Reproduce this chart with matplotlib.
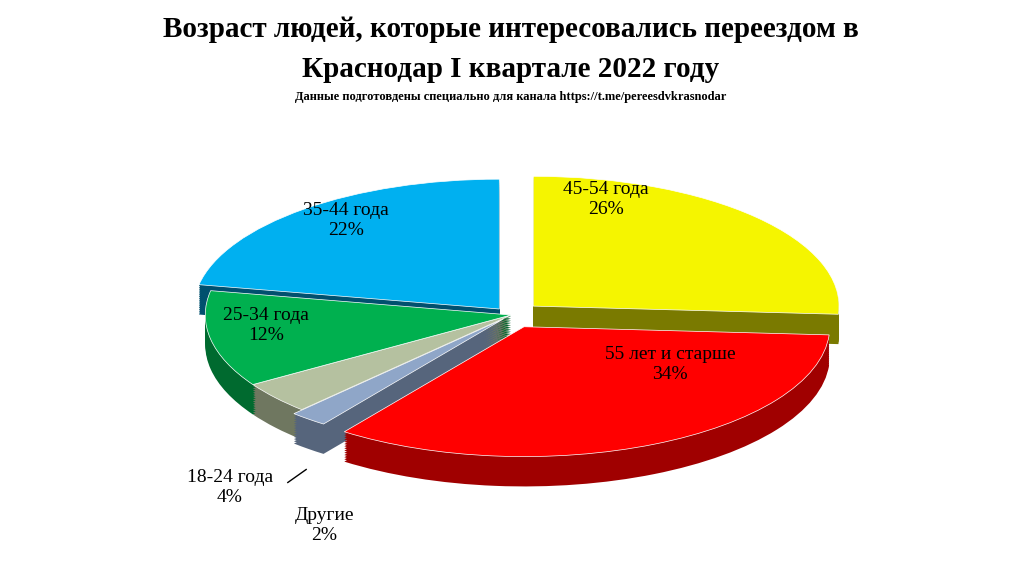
import matplotlib
matplotlib.use("Agg")
import matplotlib.pyplot as plt
import numpy as np

labels = ["45-54 года", "55 лет и старше", "Другие", "18-24 года", "25-34 года", "35-44 года"]
values = [26, 34, 2, 4, 12, 22]
colors = ["#f5f500", "#ff0000", "#8fa6c8", "#b5c1a0", "#00b04f", "#00b0f0"]
side_colors = ["#7a7a00", "#a00000", "#56657c", "#6f7760", "#006a2f", "#00506e"]
explode = [0.1, 0.1, 0.04, 0.0, 0.0, 0.06]

plt.rcParams['font.family'] = ['Liberation Serif', 'DejaVu Serif']
fig = plt.figure(figsize=(10.22, 5.68), dpi=100)
fig.text(0.5, 0.948, "Возраст людей, которые интересовались переездом в", ha='center', va='center',
         fontsize=21, fontweight='bold')
fig.text(0.5, 0.878, "Краснодар I квартале 2022 году", ha='center', va='center',
         fontsize=21, fontweight='bold')
fig.text(0.5, 0.83, "Данные подготовдены специально для канала https://t.me/pereesdvkrasnodar",
         ha='center', va='center', fontsize=9, fontweight='bold')

ax = fig.add_axes([0.15, 0.05, 0.7, 0.72])
ax.axis('off')

depth = 0.23
for k in np.linspace(depth, 0.01, 14):
    ax.pie(values, colors=side_colors, startangle=90, counterclock=False,
           explode=explode, center=(0, -k), radius=1.0,
           wedgeprops=dict(linewidth=0))
ax.pie(values, colors=colors, startangle=90, counterclock=False,
       explode=explode, center=(0, 0), radius=1.0,
       wedgeprops=dict(linewidth=0.5, edgecolor='white'))
ax.set_aspect('auto')
ax.set_xlim(-1.17, 1.17)
ax.set_ylim(-1.73, 1.42)

pos = [(0.31, 0.89), (0.52, -0.38), None, None, (-0.80, -0.08), (-0.54, 0.73)]
for i, (lab, v) in enumerate(zip(labels, values)):
    if pos[i] is not None:
        ax.text(pos[i][0], pos[i][1], f"{lab}\n{v}%", ha='center', va='center', fontsize=14)
ax.text(-0.92, -1.33, "18-24 года\n4%", ha='center', va='center', fontsize=14)
ax.plot([-0.73, -0.67], [-1.29, -1.19], color='black', lw=1)
ax.text(-0.61, -1.62, "Другие\n2%", ha='center', va='center', fontsize=14)

fig.savefig("out.png", dpi=100)
